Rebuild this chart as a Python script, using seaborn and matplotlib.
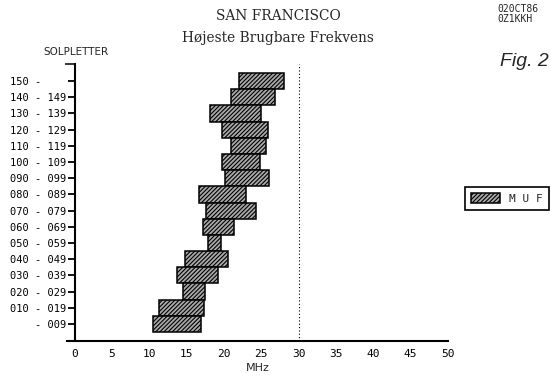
import seaborn as sns
import pandas as pd
import matplotlib
matplotlib.use("Agg")
from matplotlib import pyplot as plt

# sunspot number groups (top to bottom) and lowest / highest usable MHz
groups = ["150 -    ", "140 - 149", "130 - 139", "120 - 129", "110 - 119",
          "100 - 109", "090 - 099", "080 - 089", "070 - 079", "060 - 069",
          "050 - 059", "040 - 049", "030 - 039", "020 - 029", "010 - 019",
          "    - 009"]
muf_low = [22.0, 21.0, 18.2, 19.8, 21.0, 19.7, 20.1, 16.7, 17.6, 17.2,
           17.9, 14.8, 13.7, 14.5, 11.3, 10.5]
muf_high = [28.1, 26.9, 25.0, 25.9, 25.7, 24.9, 26.0, 23.0, 24.3, 21.4,
            19.6, 20.6, 19.25, 17.4, 17.3, 16.9]
x_ticks = [0, 5, 10, 15, 20, 25, 30, 35, 40, 45, 50]

MONO = "DejaVu Sans Mono"


def main():
    sns.set_style("white")
    plt.rcParams["hatch.linewidth"] = 0.8
    plt.rcParams["hatch.color"] = "#222222"

    df = pd.DataFrame({"group": groups, "low": muf_low, "high": muf_high})
    df["span"] = df["high"] - df["low"]

    fig = plt.figure(figsize=(5.51, 3.77), dpi=100)
    ax = fig.add_axes([0.122, 0.0955, 0.6906, 0.7347])

    sns.barplot(
        data=df,
        x="span",
        y="group",
        order=groups,
        orient="h",
        left=df["low"].tolist(),
        width=1.0,
        color="#aaaaaa",
        edgecolor="black",
        linewidth=1.1,
        hatch="////////",
        label="M U F",
        ax=ax,
    )

    ax.axvline(30, color="black", linestyle=(0, (1, 2)), linewidth=0.8, zorder=0)

    ax.set_xlim(-1, 50)
    ax.set_ylim(16.05, -1.05)
    for s in ["top", "right"]:
        ax.spines[s].set_visible(False)
    ax.spines["left"].set_position(("data", 0))
    ax.spines["left"].set_linewidth(1.5)
    ax.spines["bottom"].set_linewidth(1.5)
    ax.spines["left"].set_color("black")
    ax.spines["bottom"].set_color("black")

    ax.set_xticks(x_ticks)
    ax.set_xticklabels([str(v) for v in x_ticks], fontfamily=MONO, fontsize=8)
    ax.tick_params(axis="x", direction="in", length=4, width=1, pad=6, colors="black")
    ax.set_yticks(range(len(groups)))
    ax.set_yticklabels(groups, fontfamily=MONO, fontsize=7.5)
    ax.tick_params(axis="y", direction="out", length=5, width=1.3, pad=1, left=True,
                   colors="black")
    ax.set_yticks([-1.05], minor=True)
    ax.tick_params(axis="y", which="minor", direction="out", length=7, width=1.3, left=True)

    ax.set_xlabel("MHz", fontsize=8, labelpad=1)
    ax.xaxis.set_label_coords(0.5, -0.08)
    ax.set_ylabel("")

    ax.legend(
        loc="upper right",
        bbox_to_anchor=(549 / 551, 1 - 187 / 377),
        bbox_transform=fig.transFigure,
        borderaxespad=0,
        fancybox=False,
        edgecolor="black",
        framealpha=1,
        prop={"family": MONO, "size": 8},
        handlelength=2.6,
        handleheight=1.0,
        borderpad=0.55,
    ).get_frame().set_linewidth(1.2)

    fig.text(0.505, 0.958, "SAN FRANCISCO", ha="center", va="center",
             family="DejaVu Serif", fontstretch="condensed", fontsize=11)
    fig.text(0.505, 0.9, "Højeste Brugbare Frekvens", ha="center", va="center",
             family="DejaVu Serif", fontstretch="condensed", fontsize=11)
    fig.text(0.137, 0.862, "SOLPLETTER", ha="center", va="center",
             family="DejaVu Sans", fontsize=7.5)
    fig.text(497 / 551, 1 - 4 / 377, "020CT86\n0Z1KKH", ha="left", va="top",
             family=MONO, fontsize=7, linespacing=0.95)
    fig.text(549 / 551, 1 - 61 / 377, "Fig. 2", ha="right", va="center",
             family="Liberation Sans", style="italic", fontsize=14)

    plt.savefig("out.png", dpi=100)


if __name__ == "__main__":
    main()
